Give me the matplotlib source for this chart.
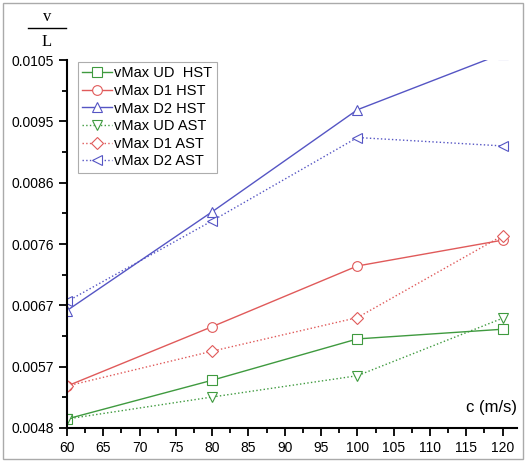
import matplotlib
matplotlib.use('Agg')
import matplotlib.pyplot as plt
from matplotlib.patches import Rectangle
from matplotlib.ticker import FixedLocator, MultipleLocator

plt.rcParams['font.family'] = ['Liberation Sans', 'DejaVu Sans']

# speeds c (m/s)
c = [60, 80, 100, 120]

# v/L values
ud_hst = [0.00494, 0.00554, 0.00618, 0.00633]
d1_hst = [0.00545, 0.00637, 0.00731, 0.00771]
d2_hst = [0.00662, 0.00815, 0.00973, 0.0106]
ud_ast = [0.00494, 0.00528, 0.00561, 0.00650]
d1_ast = [0.00545, 0.00599, 0.00651, 0.00778]
d2_ast = [0.00676, 0.00801, 0.00930, 0.00917]

ytick_vals = [0.0048, 0.00575, 0.0067, 0.00765, 0.0086, 0.00955, 0.0105]
ytick_labels = ['0.0048', '0.0057', '0.0067', '0.0076', '0.0086', '0.0095', '0.0105']

green = '#3f9a3f'
red = '#e05a5a'
blue = '#5555c4'

fig = plt.figure(figsize=(5.26, 4.62), dpi=100)
ax = fig.add_axes([0.1274, 0.0736, 0.983 - 0.1274, 0.870 - 0.0736])

mk = dict(markersize=7, markerfacecolor='white', markeredgewidth=0.8, linewidth=1.0)
ax.plot(c, ud_hst, '-', marker='s', color=green, label='vMax UD  HST', **mk)
ax.plot(c, d1_hst, '-', marker='o', color=red, label='vMax D1 HST', **mk)
ax.plot(c, d2_hst, '-', marker='^', color=blue, label='vMax D2 HST', **mk)
ax.plot(c, ud_ast, ':', marker='v', color=green, label='vMax UD AST', **mk)
ax.plot(c, d1_ast, ':', marker='D', color=red, label='vMax D1 AST', markersize=6,
        markerfacecolor='white', markeredgewidth=0.8, linewidth=1.0)
ax.plot(c, d2_ast, ':', marker='<', color=blue, label='vMax D2 AST', **mk)

ax.set_xlim(60, 122)
ax.set_ylim(0.0048, 0.0105)
ax.xaxis.set_major_locator(MultipleLocator(5))
ax.xaxis.set_minor_locator(MultipleLocator(2.5))
ax.yaxis.set_major_locator(FixedLocator(ytick_vals))
ax.set_yticklabels(ytick_labels)
mids = [(a + b) / 2 for a, b in zip(ytick_vals[:-1], ytick_vals[1:])]
ax.yaxis.set_minor_locator(FixedLocator(mids))

for s in ['top', 'right']:
    ax.spines[s].set_visible(False)
for s in ['left', 'bottom']:
    ax.spines[s].set_linewidth(1.5)
ax.tick_params(which='major', length=6, width=1.3, labelsize=10)
ax.tick_params(which='minor', length=3.5, width=1.3)

leg = ax.legend(loc='upper left', bbox_to_anchor=(0.018, 1.003), fontsize=10.5,
                frameon=True, fancybox=False, edgecolor='#999999',
                handlelength=2.0, handletextpad=0.2, borderpad=0.3,
                labelspacing=0.25, borderaxespad=0.2)
leg.get_frame().set_linewidth(0.8)

ax.text(1.0, 0.035, 'c (m/s)', transform=ax.transAxes, ha='right', va='bottom',
        fontsize=12)

# v / L label
fig.text(47 / 526, 1 - 17 / 462, 'v', ha='center', va='center',
         family='Liberation Serif', fontsize=12)
fig.text(47 / 526, 1 - 42 / 462, 'L', ha='center', va='center',
         family='Liberation Serif', fontsize=12)
fig.add_artist(plt.Line2D([28 / 526, 66 / 526], [1 - 28 / 462, 1 - 28 / 462],
                          color='black', linewidth=1.0))

# outer frame
fig.add_artist(Rectangle((3 / 526, 3 / 462), 520 / 526, 456 / 462, fill=False,
                         edgecolor='#aaaaaa', linewidth=1.0,
                         transform=fig.transFigure))

fig.savefig('out.png', dpi=100)
